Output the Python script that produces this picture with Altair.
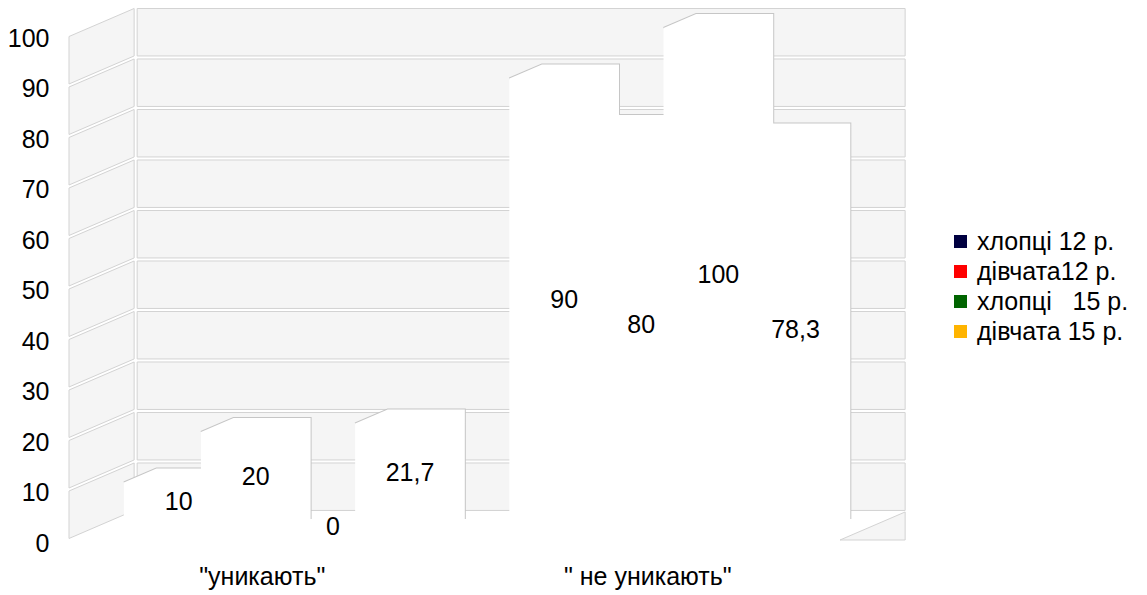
import json

import altair as alt
import pandas as pd

# ---- chart values -------------------------------------------------------
categories = ['"уникають"', '" не уникають"']
series = ["хлопці 12 р.", "дівчата12 р.", "хлопці\u00a0\u00a0 15 р.", "дівчата 15 р."]
series_colors = ["#000040", "#ff0000", "#006400", "#ffb400"]
avoid_values = [10, 20, 0, 21.7]
not_avoid_values = [90, 80, 100, 78.3]
y_ticks = [0, 10, 20, 30, 40, 50, 60, 70, 80, 90, 100]

values_by_category = [avoid_values, not_avoid_values]

# ---- pseudo 3-D geometry (data units) -----------------------------------
SLOTS_PER_GROUP = 5          # 4 bars + half a slot of gap on each side
X_MAX = SLOTS_PER_GROUP * len(categories)
DEPTH_X = 0.845              # box depth along x (slot units)
DEPTH_Y = 5.55               # box depth along y (value units)
BAR_FRONT, BAR_BACK = 0.25, 0.75
GAP = 0.3                    # white gap between wall bands
FONT = "Liberation Sans"
FS = 25
WALL_FILL = "#f5f5f5"
WALL_LINE = "#d3d3d3"

# ---- tables built from the values ---------------------------------------
bar_area, bar_edge, bar_labels = [], [], []
for gi, vals in enumerate(values_by_category):
    for si, v in enumerate(vals):
        bid = f"{gi}-{si}"
        left = gi * SLOTS_PER_GROUP + 0.5 + si
        right = left + 1
        l0, l1 = left + BAR_FRONT * DEPTH_X, left + BAR_BACK * DEPTH_X
        r0, r1 = right + BAR_FRONT * DEPTH_X, right + BAR_BACK * DEPTH_X
        b0, b1 = BAR_FRONT * DEPTH_Y, BAR_BACK * DEPTH_Y
        bar_area += [
            {"bar": bid, "x": l0, "top": v + b0, "bottom": b0},
            {"bar": bid, "x": l1, "top": v + b1, "bottom": b0},
            {"bar": bid, "x": r0, "top": v + b1, "bottom": b0},
            {"bar": bid, "x": r1, "top": v + b1, "bottom": b1},
        ]
        if v > 0:  # a zero-height box has no outline
            bar_edge += [
                {"bar": bid, "k": 0, "x": l0, "y": v + b0},
                {"bar": bid, "k": 1, "x": l1, "y": v + b1},
                {"bar": bid, "k": 2, "x": r1, "y": v + b1},
                {"bar": bid, "k": 3, "x": r1, "y": b1},
            ]
        bar_labels.append({
            "x": left + 0.5 + 0.5 * DEPTH_X,
            "y": v / 2 + 0.45 * DEPTH_Y,
            "text": f"{v:g}".replace(".", ","),
        })

side_wall, back_wall = [], []
for lo in y_ticks[:-1]:
    hi = lo + 10
    side_wall += [
        {"band": lo, "x": 0, "top": hi - GAP, "bottom": lo + GAP},
        {"band": lo, "x": DEPTH_X, "top": hi - GAP + DEPTH_Y, "bottom": lo + GAP + DEPTH_Y},
    ]
    back_wall.append({"x": DEPTH_X, "x2": X_MAX + DEPTH_X,
                      "top": hi - GAP + DEPTH_Y, "bottom": lo + GAP + DEPTH_Y})

floor_piece = [
    {"x": X_MAX, "top": 0, "bottom": 0},
    {"x": X_MAX + DEPTH_X, "top": DEPTH_Y, "bottom": 0},
]

# ---- shared scales and axes ---------------------------------------------
x_scale = alt.Scale(domain=[0, X_MAX], nice=False, zero=False)
y_scale = alt.Scale(domain=[0, 100], nice=False, zero=False)

centers = [gi * SLOTS_PER_GROUP + SLOTS_PER_GROUP / 2 for gi in range(len(categories))]
label_expr = " : ".join(
    f"datum.value == {c} ? {json.dumps(cat, ensure_ascii=False)}"
    for c, cat in zip(centers[:-1], categories[:-1])
) + f" : {json.dumps(categories[-1], ensure_ascii=False)}"

x_axis = alt.Axis(values=centers, labelExpr=label_expr, title=None, domain=False,
                  ticks=False, grid=False, labelFont=FONT, labelFontSize=FS,
                  labelColor="black", labelPadding=24)
y_axis = alt.Axis(values=y_ticks, title=None, domain=False, ticks=False, grid=False,
                  labelFont=FONT, labelFontSize=FS, labelColor="black",
                  labelPadding=20, labelOffset=3)


def X(field):
    return alt.X(field, type="quantitative", scale=x_scale, axis=x_axis)


def Y(field):
    return alt.Y(field, type="quantitative", scale=y_scale, axis=y_axis)


# ---- layers ------------------------------------------------------------
legend_layer = alt.Chart(pd.DataFrame({"series": series})).mark_square(opacity=0).encode(
    x=alt.value(0),
    y=alt.value(0),
    color=alt.Color(
        "series:N",
        scale=alt.Scale(domain=series, range=series_colors),
        legend=alt.Legend(
            title=None, orient="none", legendX=879, legendY=194,
            symbolType="square", symbolSize=169, symbolOpacity=1,
            symbolStrokeWidth=0, labelFont=FONT, labelFontSize=FS,
            labelColor="black", labelOffset=4, rowPadding=4,
        ),
    ),
)

side_layer = alt.Chart(pd.DataFrame(side_wall)).mark_area(
    fill=WALL_FILL, stroke=WALL_LINE, strokeWidth=1
).encode(x=X("x"), y=Y("top"), y2="bottom", detail="band:N")

back_layer = alt.Chart(pd.DataFrame(back_wall)).mark_rect(
    fill=WALL_FILL, stroke=WALL_LINE, strokeWidth=1, xOffset=3
).encode(x=X("x"), x2="x2", y=Y("top"), y2="bottom")

floor_layer = alt.Chart(pd.DataFrame(floor_piece)).mark_area(
    fill=WALL_FILL, stroke=WALL_LINE, strokeWidth=1
).encode(x=X("x"), y=Y("top"), y2="bottom")

edge_layer = alt.Chart(pd.DataFrame(bar_edge)).mark_line(
    color="#c6c6c6", strokeWidth=2
).encode(x=X("x"), y=Y("y"), detail="bar:N", order="k:Q")

bar_layer = alt.Chart(pd.DataFrame(bar_area)).mark_area(
    fill="white", strokeWidth=0
).encode(x=X("x"), y=Y("top"), y2="bottom", detail="bar:N")

label_layer = alt.Chart(pd.DataFrame(bar_labels)).mark_text(
    font=FONT, fontSize=FS, color="black", align="center", baseline="middle"
).encode(x=X("x"), y=Y("y"), text="text:N")

chart = alt.layer(
    legend_layer, side_layer, back_layer, floor_layer, edge_layer, bar_layer, label_layer
).properties(
    width=771,
    height=505,
    autosize=alt.AutoSizeParams(type="none"),
    padding={"left": 69, "top": 35, "right": 307, "bottom": 55},
    background="white",
).configure_view(stroke=None)

chart.save("out.html", embed_options={"renderer": "svg", "actions": False})
